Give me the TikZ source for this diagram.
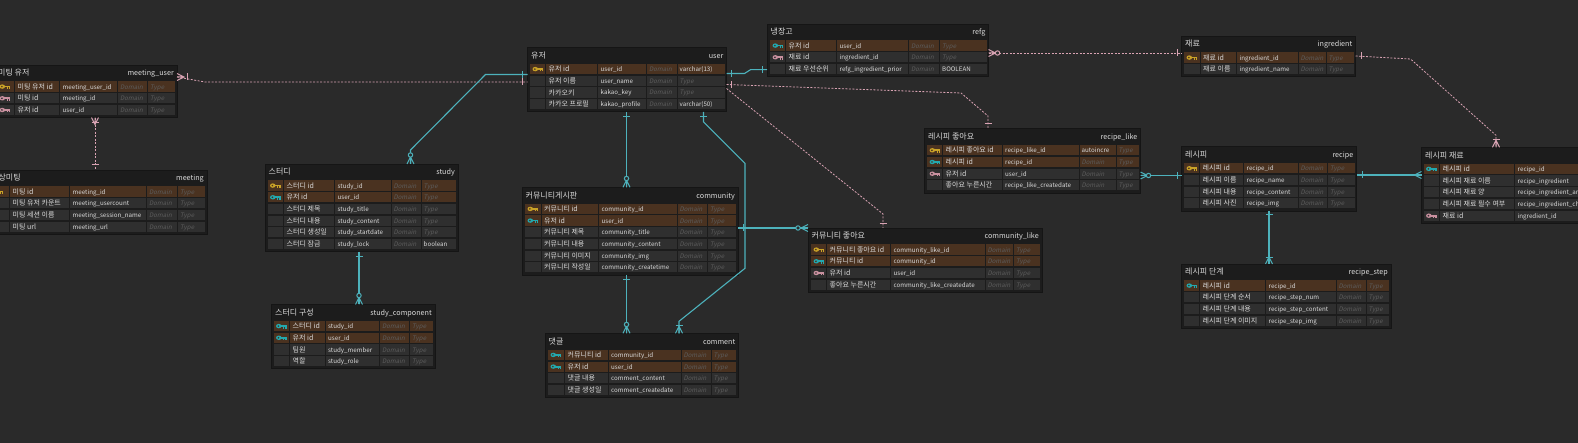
\documentclass[tikz,border=0pt]{standalone}
\usepackage{fontspec}
\setmainfont{Noto Sans CJK KR}
\newfontfamily\slfont{Noto Sans CJK KR}[FakeSlant=0.2]
\usetikzlibrary{calc}
\definecolor{bgc}{HTML}{2A2A2A}
\definecolor{tblc}{HTML}{1C1C1C}
\definecolor{tblb}{HTML}{151515}
\definecolor{cellc}{HTML}{2F2F2F}
\definecolor{pkc}{HTML}{4A3220}
\definecolor{txtc}{HTML}{DADADA}
\definecolor{dimc}{HTML}{5C5C5C}
\definecolor{goldk}{HTML}{C9A227}
\definecolor{tealk}{HTML}{23A8AE}
\definecolor{pinkk}{HTML}{C9909F}
\definecolor{tealL}{HTML}{4DB2BC}
\definecolor{pinkL}{HTML}{D9A3B3}
\tikzset{
  tblbox/.style={draw=tblb, fill=tblc, line width=0.8pt, inner sep=0pt, outer sep=0pt, rectangle},
  titletxt/.style={inner sep=0pt, font=\fontsize{8}{9}\selectfont, text=txtc},
  ptitletxt/.style={inner sep=0pt, font=\fontsize{7.2}{8}\selectfont, text=txtc},
  rowtxt/.style={anchor=base west, inner sep=0pt, font=\fontsize{7}{8}\selectfont, text=txtc},
  physrowtxt/.style={anchor=base west, inner sep=0pt, font=\fontsize{6.2}{7}\selectfont, text=txtc},
  tealrel/.style={draw=tealL, line width=1.1pt},
  pinkrel/.style={draw=pinkL, line width=0.8pt, dash pattern=on 2pt off 1.5pt},
  mk/.style={line width=1pt, solid},
}
\newcommand\dm{{\slfont\color{dimc}Domain}}
\newcommand\tp{{\slfont\color{dimc}Type}}
\def\nokey{none}
\newcommand\setcols[6]{\def\ca{#1}\def\cb{#2}\def\cc{#3}\def\cd{#4}\def\ce{#5}\def\cf{#6}}
\newcommand\erdtable[7]{%
  \def\tn{#1}%
  \pgfmathsetmacro\tabw{#4-#2}%
  \pgfmathsetmacro\tabh{29.2+(#5-1)*11.7}%
  \pgfmathsetmacro\fr{#3+16.5}%
  \node[tblbox, minimum width=\tabw pt, minimum height=\tabh pt, anchor=north west] (#1) at (#2,#3) {};
  \node[titletxt, anchor=base west] (#1-lt) at (#2+3.5,#3+10.8) {#6};
  \node[ptitletxt, anchor=base east] (#1-pt) at (#4-3,#3+10.8) {#7};
}
\newcommand\keyicon[3]{%
  \fill[#1] (#2+2.8,#3) ellipse [x radius=2.8pt, y radius=2.2pt];
  \fill[#1] (#2+4.5,#3-0.9) rectangle (#2+10.5,#3+0.9);
  \fill[#1] (#2+7.3,#3) rectangle (#2+8.4,#3+2.4);
  \fill[#1] (#2+9.4,#3) rectangle (#2+10.5,#3+2.4);
  \fill[\rf] (#2+2.4,#3) circle (0.9pt);
}
\newcommand\erow[7]{%
  \pgfmathsetmacro\yy{\fr+#1*11.7}%
  \ifnum#3=1 \def\rf{pkc}\else\def\rf{cellc}\fi
  \fill[\rf] (\ca,\yy) rectangle (\cb-1,\yy+10.2);
  \fill[\rf] (\cb,\yy) rectangle (\cc-1,\yy+10.2);
  \fill[\rf] (\cc,\yy) rectangle (\cd-1,\yy+10.2);
  \fill[\rf] (\cd,\yy) rectangle (\ce-1,\yy+10.2);
  \fill[\rf] (\ce,\yy) rectangle (\cf,\yy+10.2);
  \node[rowtxt] (\tn-r#1-l) at (\cb+2.5,\yy+7.7) {#4};
  \node[physrowtxt] (\tn-r#1-p) at (\cc+2.5,\yy+7.6) {#5};
  \node[physrowtxt] (\tn-r#1-d) at (\cd+2,\yy+7.6) {#6};
  \node[physrowtxt] (\tn-r#1-t) at (\ce+2,\yy+7.6) {#7};
  \def\kk{#2}\ifx\kk\nokey\else\keyicon{#2}{\ca+2.5}{\yy+5.1}\fi
}
% markers
\newcommand\vmk[3]{\draw[#3,mk] (#1,#2-3.5) -- (#1,#2+3.5);}
\newcommand\hmk[3]{\draw[#3,mk] (#1-3.5,#2) -- (#1+3.5,#2);}
\newcommand\crowD[3]{\draw[#3,mk] (#1-3.5,#2) -- (#1,#2-7) -- (#1+3.5,#2) (#1,#2-7) -- (#1,#2);}
\newcommand\crowU[3]{\draw[#3,mk] (#1-3.5,#2) -- (#1,#2+7) -- (#1+3.5,#2) (#1,#2+7) -- (#1,#2);}
\newcommand\crowL[3]{\draw[#3,mk] (#1,#2-3.5) -- (#1+7,#2) -- (#1,#2+3.5) (#1+7,#2) -- (#1,#2);}
\newcommand\crowR[3]{\draw[#3,mk] (#1,#2-3.5) -- (#1-7,#2) -- (#1,#2+3.5) (#1-7,#2) -- (#1,#2);}
\newcommand\ringmk[3]{\draw[#3,mk,fill=bgc] (#1,#2) circle (2.2pt);}
\begin{document}
\begin{tikzpicture}[x=1pt,y=-1pt]
\useasboundingbox (0,0) rectangle (1578,443);
\clip (0,0) rectangle (1578,443);
\fill[bgc] (0,0) rectangle (1578,443);

% meeting_user
\setcols{-3}{15}{60}{118}{148}{175}
\erdtable{mu}{-5.5}{65}{177}{3}{미팅 유저}{meeting\_user}
\erow{0}{goldk}{1}{미팅 유저 id}{meeting\_user\_id}{\dm}{\tp}
\erow{1}{pinkk}{0}{미팅 id}{meeting\_id}{\dm}{\tp}
\erow{2}{pinkk}{0}{유저 id}{user\_id}{\dm}{\tp}

% meeting
\setcols{-10}{10}{70}{147}{178}{204.5}
\erdtable{mt}{-12.5}{170}{207}{4}{화상미팅}{meeting}
\erow{0}{goldk}{1}{미팅 id}{meeting\_id}{\dm}{\tp}
\erow{1}{none}{0}{미팅 유저 카운트}{meeting\_usercount}{\dm}{\tp}
\erow{2}{none}{0}{미팅 세션 이름}{meeting\_session\_name}{\dm}{\tp}
\erow{3}{none}{0}{미팅 url}{meeting\_url}{\dm}{\tp}

% study
\setcols{267.5}{284}{335}{391.5}{421.5}{455.5}
\erdtable{st}{265}{164}{458}{6}{스터디}{study}
\erow{0}{goldk}{1}{스터디 id}{study\_id}{\dm}{\tp}
\erow{1}{tealk}{1}{유저 id}{user\_id}{\dm}{\tp}
\erow{2}{none}{0}{스터디 제목}{study\_title}{\dm}{\tp}
\erow{3}{none}{0}{스터디 내용}{study\_content}{\dm}{\tp}
\erow{4}{none}{0}{스터디 생성일}{study\_startdate}{\dm}{\tp}
\erow{5}{none}{0}{스터디 잠금}{study\_lock}{\dm}{boolean}

% study_component
\setcols{273.5}{290}{325.5}{380}{410}{432.5}
\erdtable{sc}{271.5}{304.5}{435}{4}{스터디 구성}{study\_component}
\erow{0}{tealk}{1}{스터디 id}{study\_id}{\dm}{\tp}
\erow{1}{tealk}{1}{유저 id}{user\_id}{\dm}{\tp}
\erow{2}{none}{0}{팀원}{study\_member}{\dm}{\tp}
\erow{3}{none}{0}{역할}{study\_role}{\dm}{\tp}

% user
\setcols{530}{546}{598}{647}{677.5}{724.5}
\erdtable{us}{527.5}{47.5}{726.5}{4}{유저}{user}
\erow{0}{goldk}{1}{유저 id}{user\_id}{\dm}{varchar(13)}
\erow{1}{none}{0}{유저 이름}{user\_name}{\dm}{\tp}
\erow{2}{none}{0}{카카오키}{kakao\_key}{\dm}{\tp}
\erow{3}{none}{0}{카카오 프로필}{kakao\_profile}{\dm}{varchar(50)}

% community
\setcols{525}{541.5}{599}{677.5}{708}{735.5}
\erdtable{cm}{522}{187.3}{738}{6}{커뮤니티게시판}{community}
\erow{0}{goldk}{1}{커뮤니티 id}{community\_id}{\dm}{\tp}
\erow{1}{tealk}{1}{유저 id}{user\_id}{\dm}{\tp}
\erow{2}{none}{0}{커뮤니티 제목}{community\_title}{\dm}{\tp}
\erow{3}{none}{0}{커뮤니티 내용}{community\_content}{\dm}{\tp}
\erow{4}{none}{0}{커뮤니티 이미지}{community\_img}{\dm}{\tp}
\erow{5}{none}{0}{커뮤니티 작성일}{community\_createtime}{\dm}{\tp}

% comment
\setcols{548}{565}{608.5}{681.5}{711.5}{736}
\erdtable{co}{545}{333.3}{738.5}{4}{댓글}{comment}
\erow{0}{tealk}{1}{커뮤니티 id}{community\_id}{\dm}{\tp}
\erow{1}{tealk}{1}{유저 id}{user\_id}{\dm}{\tp}
\erow{2}{none}{0}{댓글 내용}{comment\_content}{\dm}{\tp}
\erow{3}{none}{0}{댓글 생성일}{comment\_createdate}{\dm}{\tp}

% refg
\setcols{770}{786}{837}{909}{940}{986.5}
\erdtable{rf}{767}{24}{988.5}{3}{냉장고}{refg}
\erow{0}{tealk}{1}{유저 id}{user\_id}{\dm}{\tp}
\erow{1}{pinkk}{0}{재료 id}{ingredient\_id}{\dm}{\tp}
\erow{2}{none}{0}{재료 우선순위}{refg\_ingredient\_prior}{\dm}{BOOLEAN}

% recipe_like
\setcols{927}{943}{1002.5}{1079.5}{1116.5}{1138.5}
\erdtable{rl}{924.5}{128.7}{1140.5}{4}{레시피 좋아요}{recipe\_like}
\erow{0}{goldk}{1}{레시피 좋아요 id}{recipe\_like\_id}{autoincre}{\tp}
\erow{1}{tealk}{1}{레시피 id}{recipe\_id}{\dm}{\tp}
\erow{2}{pinkk}{0}{유저 id}{user\_id}{\dm}{\tp}
\erow{3}{none}{0}{좋아요 누른시간}{recipe\_like\_createdate}{\dm}{\tp}

% community_like
\setcols{811}{827}{891}{985.5}{1014}{1039.5}
\erdtable{cl}{808}{228}{1042}{4}{커뮤니티 좋아요}{community\_like}
\erow{0}{goldk}{1}{커뮤니티 좋아요 id}{community\_like\_id}{\dm}{\tp}
\erow{1}{tealk}{1}{커뮤니티 id}{community\_id}{\dm}{\tp}
\erow{2}{pinkk}{0}{유저 id}{user\_id}{\dm}{\tp}
\erow{3}{none}{0}{좋아요 누른시간}{community\_like\_createdate}{\dm}{\tp}

% ingredient
\setcols{1184}{1200.5}{1237}{1298.5}{1326.5}{1353.5}
\erdtable{ig}{1181.5}{36}{1355.5}{2}{재료}{ingredient}
\erow{0}{goldk}{1}{재료 id}{ingredient\_id}{\dm}{\tp}
\erow{1}{none}{0}{재료 이름}{ingredient\_name}{\dm}{\tp}

% recipe
\setcols{1184}{1200}{1244}{1298.5}{1328}{1354.5}
\erdtable{rc}{1181.5}{146.7}{1356.5}{4}{레시피}{recipe}
\erow{0}{goldk}{1}{레시피 id}{recipe\_id}{\dm}{\tp}
\erow{1}{none}{0}{레시피 이름}{recipe\_name}{\dm}{\tp}
\erow{2}{none}{0}{레시피 내용}{recipe\_content}{\dm}{\tp}
\erow{3}{none}{0}{레시피 사진}{recipe\_img}{\dm}{\tp}

% recipe_ingredient
\setcols{1423.5}{1440}{1515}{1605}{1640}{1670}
\erdtable{ri}{1421.5}{147.3}{1675}{5}{레시피 재료}{recipe\_ingredient}
\erow{0}{tealk}{1}{레시피 id}{recipe\_id}{\dm}{\tp}
\erow{1}{none}{0}{레시피 재료 이름}{recipe\_ingredient}{\dm}{\tp}
\erow{2}{none}{0}{레시피 재료 양}{recipe\_ingredient\_amount}{\dm}{\tp}
\erow{3}{none}{0}{레시피 재료 필수 여부}{recipe\_ingredient\_check}{\dm}{\tp}
\erow{4}{pinkk}{0}{재료 id}{ingredient\_id}{\dm}{\tp}

% recipe_step
\setcols{1184}{1200}{1266}{1336.5}{1366.5}{1389}
\erdtable{rs}{1181.5}{264}{1391}{4}{레시피 단계}{recipe\_step}
\erow{0}{tealk}{1}{레시피 id}{recipe\_id}{\dm}{\tp}
\erow{1}{none}{0}{레시피 단계 순서}{recipe\_step\_num}{\dm}{\tp}
\erow{2}{none}{0}{레시피 단계 내용}{recipe\_step\_content}{\dm}{\tp}
\erow{3}{none}{0}{레시피 단계 이미지}{recipe\_step\_img}{\dm}{\tp}

% ---------- connectors ----------
% meeting_user - user
\draw[pinkrel] ($(mu.north east)+(0,12)$) -- ++(28,5) -- ($(us.north west)+(0,34.5)$);
\crowL{177}{77}{pinkL}\vmk{187}{77}{pinkL}\vmk{522}{82}{pinkL}
% meeting_user - meeting
\draw[pinkrel] ($(mu.south west)+(100.5,0)$) -- ($(mt.north west)+(107.5,0)$);
\crowU{95}{117.6}{pinkL}\hmk{95}{123}{pinkL}\hmk{95}{165}{pinkL}
% user - study
\draw[tealrel] ($(us.north west)+(0,27)$) -- ++(-42,0) -- ($(st.north west)+(145.5,-14)$) -- ($(st.north west)+(145.5,0)$);
\vmk{522}{74.5}{tealL}\crowD{410.5}{164}{tealL}\ringmk{410.5}{155}{tealL}
% study - study_component
\draw[tealrel] ($(st.south west)+(94,0)$) -- ($(sc.north west)+(87.5,0)$);
\hmk{359}{257}{tealL}\crowD{359}{304.5}{tealL}\ringmk{359}{295.5}{tealL}
% user - community
\draw[tealrel] ($(us.south west)+(99,0)$) -- ($(cm.north west)+(104.5,0)$);
\hmk{626.5}{117}{tealL}\crowD{626.5}{187.3}{tealL}\ringmk{626.5}{178.5}{tealL}
% user - comment
\draw[tealrel] ($(us.south west)+(176,0)$) -- ++(0,10) -- ++(41.5,41.5) -- ++(0,105) -- ($(co.north west)+(134,-12)$) -- ($(co.north west)+(134,0)$);
\hmk{703.5}{117}{tealL}\crowD{679}{333.3}{tealL}\hmk{679}{325}{tealL}
% community - comment
\draw[tealrel] ($(cm.south west)+(104.5,0)$) -- ($(co.north west)+(81.5,0)$);
\hmk{626.5}{280}{tealL}\crowD{626.5}{333.3}{tealL}\ringmk{626.5}{324.5}{tealL}
% community - community_like
\draw[tealrel] ($(cm.north east)+(0,40.7)$) -- (cl.north west);
\vmk{743}{228}{tealL}\crowR{808}{228}{tealL}\ringmk{798}{228}{tealL}
% user - refg
\draw[tealrel] ($(us.north east)+(0,26)$) -- ++(18,0) -- ++(6,-3.8) -- ($(rf.north west)+(0,45.7)$);
\vmk{731}{73.5}{tealL}\vmk{762}{69.7}{tealL}
% user - recipe_like
\draw[pinkrel] ($(us.north east)+(0,37)$) -- ($(rl.north west)+(36.5,-35.7)$) -- ($(rl.north west)+(63.5,-12.7)$) -- ($(rl.north west)+(63.5,0)$);
\vmk{731}{84.7}{pinkL}\hmk{988}{124}{pinkL}
% user - community_like
\draw[pinkrel] ($(us.north east)+(0,41)$) -- ($(cl.north west)+(75,-14)$) -- ($(cl.north west)+(75,0)$);
\hmk{883}{223.5}{pinkL}
% refg - ingredient
\draw[pinkrel] ($(rf.north east)+(0,29)$) -- ($(ig.north west)+(0,17)$);
\crowL{988.5}{53}{pinkL}\ringmk{997.5}{53}{pinkL}\vmk{1177}{53}{pinkL}
% ingredient - recipe_ingredient
\draw[pinkrel] ($(ig.north east)+(0,20)$) -- ++(55,3) -- ($(ri.north west)+(74.5,-12)$) -- ($(ri.north west)+(74.5,0)$);
\vmk{1361}{56}{pinkL}\crowD{1496}{147.3}{pinkL}\hmk{1496}{140}{pinkL}
% recipe_like - recipe
\draw[tealrel] ($(rl.north east)+(0,46.8)$) -- ($(rc.north west)+(0,28.8)$);
\crowL{1140.5}{175.5}{tealL}\ringmk{1148.5}{175.5}{tealL}\vmk{1177}{175.5}{tealL}
% recipe - recipe_ingredient
\draw[tealrel] ($(rc.north east)+(0,28.3)$) -- ($(ri.north west)+(0,27.7)$);
\vmk{1362}{175}{tealL}\crowR{1421.5}{175}{tealL}
% recipe - recipe_step
\draw[tealrel] ($(rc.south west)+(87.5,0)$) -- ($(rs.north west)+(87.5,0)$);
\hmk{1269}{215}{tealL}\crowD{1269}{264}{tealL}\hmk{1269}{258}{tealL}
\end{tikzpicture}
\end{document}
